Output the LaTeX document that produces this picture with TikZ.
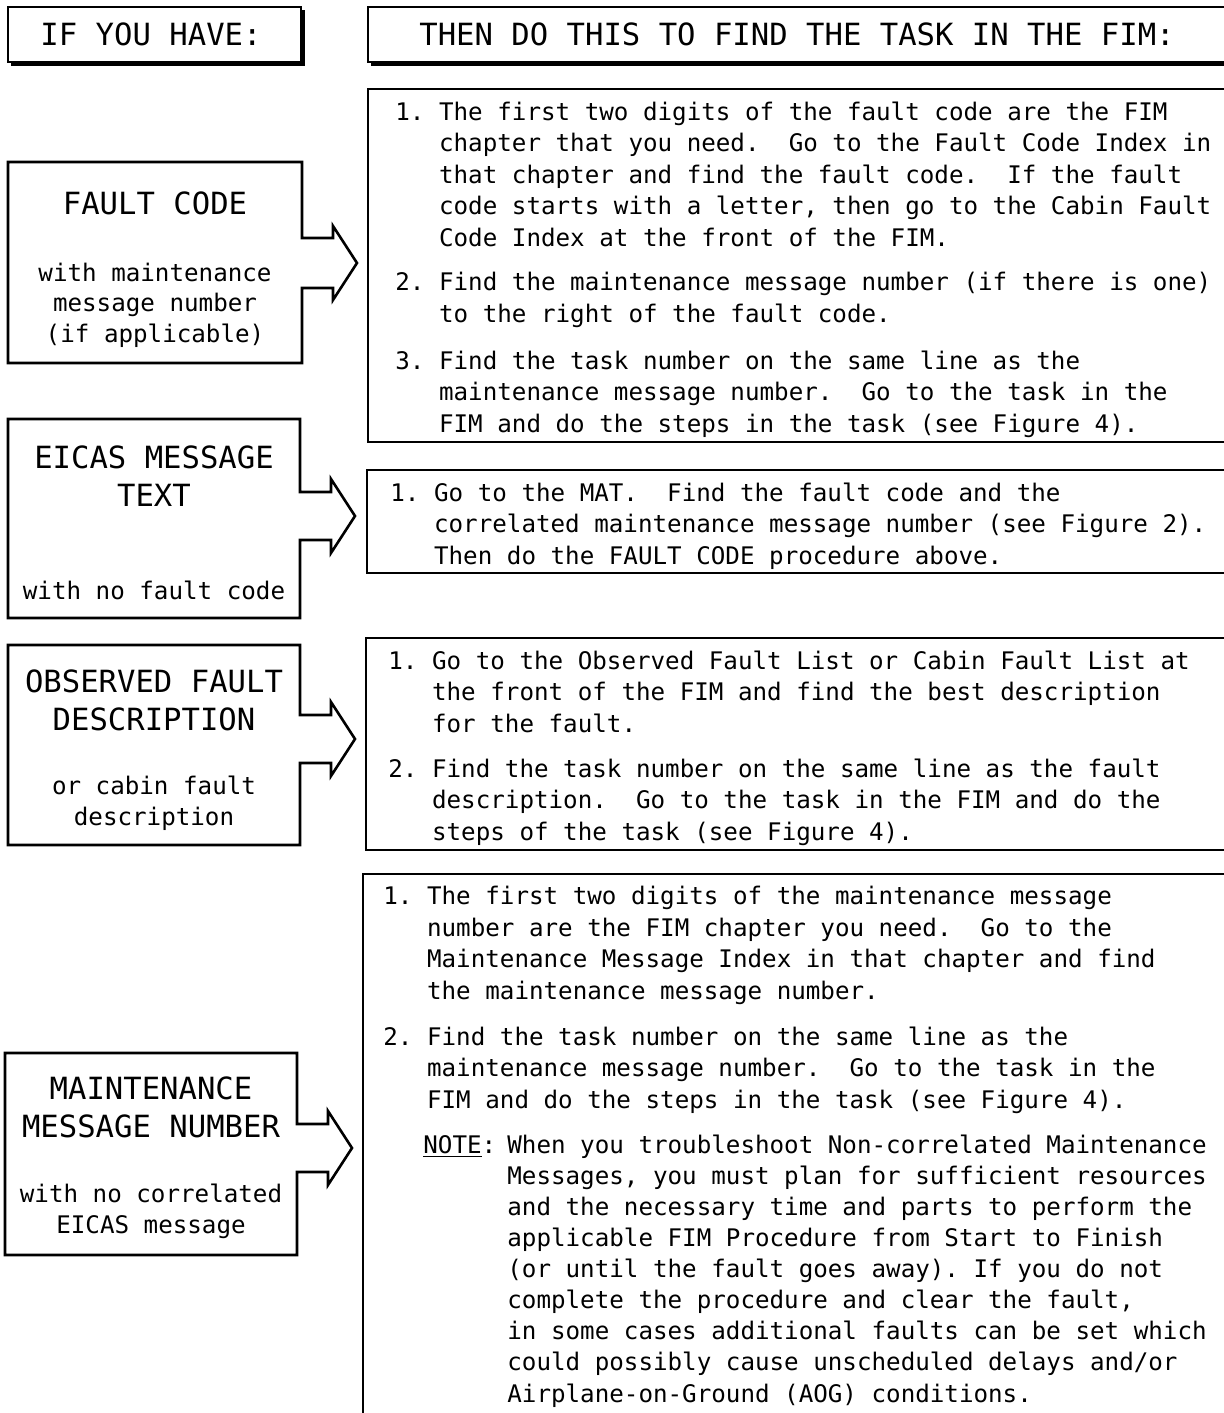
\documentclass[tikz,border=0pt]{standalone}
\usepackage{fontspec}
\setmainfont{DejaVu Sans Mono}
\frenchspacing
\newcommand{\bodyfont}{\fontsize{12.1}{15.7}\selectfont}
\newcommand{\headfont}{\fontsize{15.3}{18.8}\selectfont}
\newcommand{\indnt}{\hspace*{1.806em}}
\begin{document}
\begin{tikzpicture}[x=0.5pt, y=-0.5pt,
    hdr/.style={font=\headfont, inner sep=0pt, anchor=base},
    title/.style={font=\headfont, align=center, inner sep=0pt, anchor=base},
    sub/.style={font=\fontsize{12.1}{15.2}\selectfont, align=center, inner sep=0pt, anchor=base},
    item/.style={font=\bodyfont, align=left, inner sep=0pt, anchor=base west},
    havebox/.style={line width=1.3pt, line join=miter},
    dobox/.style={line width=0.8pt}
  ]
  \useasboundingbox (0,0) rectangle (1224,1413);

  % header boxes
  \fill (11,10) rectangle (305,66);
  \draw[fill=white, line width=1.3pt] (8,7) rectangle (301,62);
  \fill (371,10) rectangle (1240,66);
  \draw[fill=white, line width=1.3pt] (368,7) rectangle (1240,62);
  \node[hdr] (have) at (151,46) {IF YOU HAVE:};
  \node[hdr] (then) at (797,46) {THEN DO THIS TO FIND THE TASK IN THE FIM:};

  % left boxes with arrows (base of a multi-line node = last line)
  \draw[havebox] (8,162) -- (302,162) -- (302,238) -- (333,238) -- (333,226)
    -- (357,263) -- (333,300) -- (333,288) -- (302,288) -- (302,363) -- (8,363) -- cycle;
  \draw[havebox] (8,419) -- (300,419) -- (300,492) -- (331,492) -- (331,479)
    -- (355,516) -- (331,553) -- (331,540) -- (300,540) -- (300,618) -- (8,618) -- cycle;
  \draw[havebox] (8,645) -- (300,645) -- (300,715) -- (331,715) -- (331,702)
    -- (355,739) -- (331,776) -- (331,763) -- (300,763) -- (300,845) -- (8,845) -- cycle;
  \draw[havebox] (5,1053) -- (297,1053) -- (297,1124) -- (328,1124) -- (328,1111)
    -- (352,1148) -- (328,1185) -- (328,1172) -- (297,1172) -- (297,1255) -- (5,1255) -- cycle;

  \node[title] (fcode) at (155,214) {FAULT CODE};
  \node[sub] (fcodesub) at (155,342) {with maintenance\\message number\\(if applicable)};
  \node[title] (eicas) at (154,506) {EICAS MESSAGE\\TEXT};
  \node[sub] (eicassub) at (154,599) {with no fault code};
  \node[title] (obs) at (154,730) {OBSERVED FAULT\\DESCRIPTION};
  \node[sub] (obssub) at (154,825) {or cabin fault\\description};
  \node[title] (mmsg) at (151,1137) {MAINTENANCE\\MESSAGE NUMBER};
  \node[sub] (mmsgsub) at (151,1233) {with no correlated\\EICAS message};

  % right boxes, open to the right
  \draw[dobox] (1240,89) -- (368,89) -- (368,442) -- (1240,442);
  \draw[dobox] (1240,470) -- (367,470) -- (367,573) -- (1240,573);
  \draw[dobox] (1240,638) -- (366,638) -- (366,850) -- (1240,850);
  \draw[dobox] (1240,874) -- (363,874) -- (363,1420);

  % fault code steps
  \node[item] (fc1) at (395,246) {1. The first two digits of the fault code are the FIM\\
    \indnt chapter that you need.\ \ Go to the Fault Code Index in\\
    \indnt that chapter and find the fault code.\ \ If the fault\\
    \indnt code starts with a letter, then go to the Cabin Fault\\
    \indnt Code Index at the front of the FIM.};
  \node[item] (fc2) at (395,322) {2. Find the maintenance message number (if there is one)\\
    \indnt to the right of the fault code.};
  \node[item] (fc3) at (395,432) {3. Find the task number on the same line as the\\
    \indnt maintenance message number.\ \ Go to the task in the\\
    \indnt FIM and do the steps in the task (see Figure 4).};

  % eicas steps
  \node[item] (ei1) at (390,564) {1. Go to the MAT.\ \ Find the fault code and the\\
    \indnt correlated maintenance message number (see Figure 2).\\
    \indnt Then do the FAULT CODE procedure above.};

  % observed fault steps
  \node[item] (ob1) at (388,732) {1. Go to the Observed Fault List or Cabin Fault List at\\
    \indnt the front of the FIM and find the best description\\
    \indnt for the fault.};
  \node[item] (ob2) at (388,840) {2. Find the task number on the same line as the fault\\
    \indnt description.\ \ Go to the task in the FIM and do the\\
    \indnt steps of the task (see Figure 4).};

  % maintenance message steps
  \node[item] (mm1) at (383,999) {1. The first two digits of the maintenance message\\
    \indnt number are the FIM chapter you need.\ \ Go to the\\
    \indnt Maintenance Message Index in that chapter and find\\
    \indnt the maintenance message number.};
  \node[item] (mm2) at (383,1108) {2. Find the task number on the same line as the\\
    \indnt maintenance message number.\ \ Go to the task in the\\
    \indnt FIM and do the steps in the task (see Figure 4).};
  \node[item] (note) at (423,1153) {\underline{NOTE}:};
  \node[item, font=\fontsize{12.1}{15.55}\selectfont] (notetext) at (507,1402)
    {When you troubleshoot Non-correlated Maintenance\\
    Messages, you must plan for sufficient resources\\
    and the necessary time and parts to perform the\\
    applicable FIM Procedure from Start to Finish\\
    (or until the fault goes away). If you do not\\
    complete the procedure and clear the fault,\\
    in some cases additional faults can be set which\\
    could possibly cause unscheduled delays and/or\\
    Airplane-on-Ground (AOG) conditions.};
\end{tikzpicture}
\end{document}
